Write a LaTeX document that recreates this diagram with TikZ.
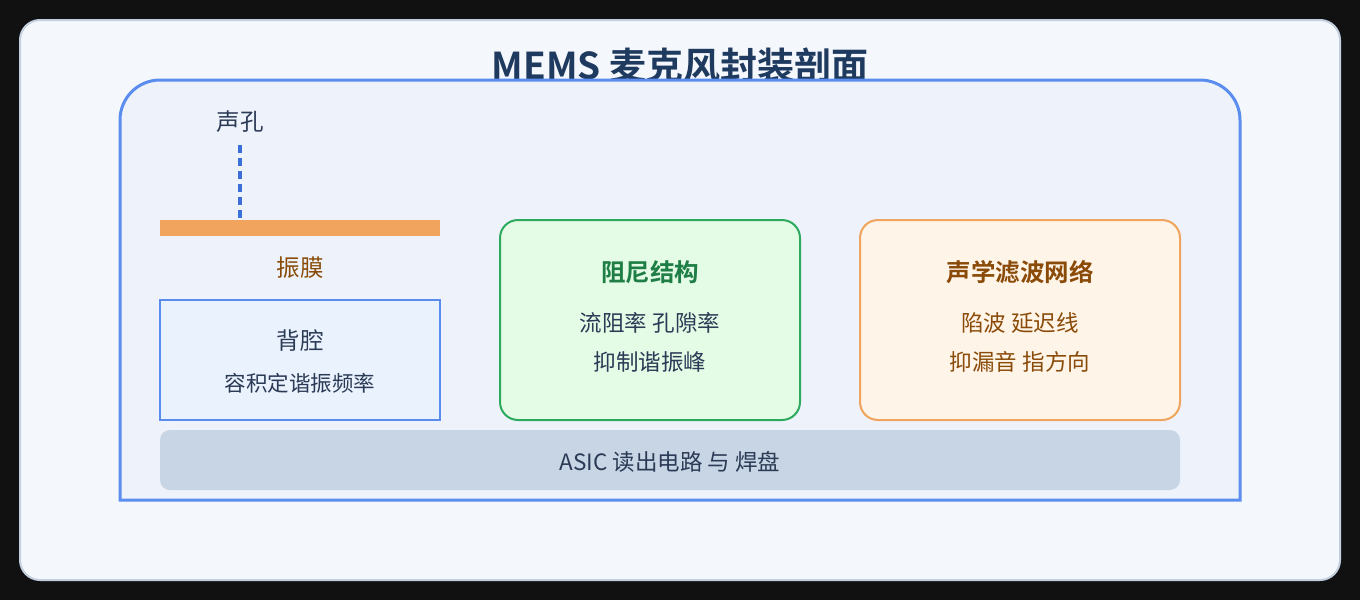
\documentclass[tikz,border=0pt]{standalone}
\usepackage{fontspec}
\setmainfont{Noto Sans CJK SC}
\newfontfamily\cjkb{Noto Sans CJK SC Bold}
\definecolor{bgdark}{HTML}{111111}
\definecolor{card}{HTML}{F4F7FC}
\definecolor{cardline}{HTML}{C3CFDE}
\definecolor{pkgline}{HTML}{5B8DEF}
\definecolor{pkgfill}{HTML}{EEF3FB}
\definecolor{navy}{HTML}{1F3A5F}
\definecolor{txt}{HTML}{2B3A55}
\definecolor{holeblue}{HTML}{3B6FD8}
\definecolor{orange}{HTML}{F0A45E}
\definecolor{brown}{HTML}{8A4B08}
\definecolor{cavfill}{HTML}{EAF2FE}
\definecolor{grn}{HTML}{2EAA5F}
\definecolor{grnfill}{HTML}{E4FBE6}
\definecolor{grntxt}{HTML}{1E7E45}
\definecolor{orgfill}{HTML}{FFF4E8}
\definecolor{asic}{HTML}{C8D5E5}
\tikzset{
  lbl/.style={inner sep=0pt, font=\fontsize{22.5}{26}\selectfont, text=txt},
  ttl/.style={inner sep=0pt, font=\cjkb\fontsize{24.5}{28}\selectfont},
}
\begin{document}
\begin{tikzpicture}[x=1pt,y=-1pt]
\useasboundingbox (0,0) rectangle (1360,600);
\fill[bgdark] (0,0) rectangle (1360,600);
\draw[cardline, fill=card, line width=2pt, rounded corners=20pt] (20,20) rectangle (1340,580);
% title
\node[inner sep=0pt, anchor=base, font=\cjkb\fontsize{37}{42}\selectfont, text=navy] (title) at (680,79) {MEMS 麦克风封装剖面};
% package
\draw[pkgline, fill=pkgfill, line width=3pt] (120,500) -- (120,120) arc[start angle=180, end angle=270, radius=40] -- (1200,80) arc[start angle=270, end angle=360, radius=40] -- (1240,500) -- cycle;
% sound hole
\node[lbl, font=\fontsize{23.5}{27}\selectfont] (hole) at (240,122) {声孔};
\fill[orange] (160,220) rectangle (440,236);
\coordinate (dtop) at (240,220);
\coordinate (htop) at (240,145);
\draw[holeblue, line width=4pt, dash pattern=on 8pt off 5pt] (htop) -- (dtop);
\node[lbl, text=brown, font=\fontsize{23.5}{27}\selectfont] (diaph) at (300,268) {振膜};
% back cavity
\draw[pkgline, fill=cavfill, line width=2pt] (160,300) rectangle (440,420);
\node[lbl, font=\fontsize{23.5}{27}\selectfont] (cav) at (300,341) {背腔};
\node[lbl, font=\fontsize{21.5}{25}\selectfont] (cav2) at (300,383) {容积定谐振频率};
% damping
\draw[grn, fill=grnfill, line width=2pt, rounded corners=18pt] (500,220) rectangle (800,420);
\node[ttl, text=grntxt] (damp) at (650,272) {阻尼结构};
\node[lbl] (damp1) at (650,323) {流阻率 孔隙率};
\node[lbl] (damp2) at (650,362) {抑制谐振峰};
% filter
\draw[orange, fill=orgfill, line width=2pt, rounded corners=18pt] (860,220) rectangle (1180,420);
\node[ttl, text=brown] (filt) at (1020,272) {声学滤波网络};
\node[lbl, text=brown] (filt1) at (1020,323) {陷波 延迟线};
\node[lbl, text=brown] (filt2) at (1020,362) {抑漏音 指方向};
% ASIC
\fill[asic, rounded corners=10pt] (160,430) rectangle (1180,490);
\node[lbl] (asic) at (670,462) {ASIC 读出电路 与 焊盘};
\end{tikzpicture}
\end{document}
